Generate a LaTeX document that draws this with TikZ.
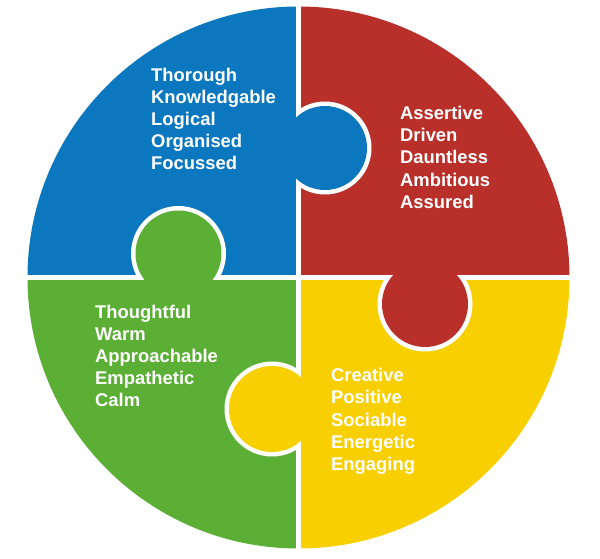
\documentclass[tikz,border=0pt]{standalone}
\usepackage{fontspec}
\setmainfont{Liberation Sans}
\definecolor{qblue}{HTML}{0B77BE}
\definecolor{qred}{HTML}{B9302A}
\definecolor{qgreen}{HTML}{5BAF35}
\definecolor{qyellow}{HTML}{F8CF00}
\begin{document}
\begin{tikzpicture}[x=1pt,y=-1pt,
  lbl/.style={anchor=base west, inner sep=0pt, text=white, font=\fontsize{18.4}{22}\selectfont\bfseries},
  gap/.style={white, line width=5pt},
  ring/.style={fill=white}]
\useasboundingbox (0,0) rectangle (600,559);
\coordinate (c) at (298.5,277.5);
% quadrants
\begin{scope}
  \clip (c) circle (271pt);
  \fill[qblue]   (c) rectangle (0,0);
  \fill[qred]    (c) rectangle (600,0);
  \fill[qgreen]  (c) rectangle (0,559);
  \fill[qyellow] (c) rectangle (600,559);
\end{scope}
% gaps
\draw[gap] (298.5,0) -- (298.5,559);
\draw[gap] (0,277.5) -- (600,277.5);
% blue knob into red
\begin{scope}
  \clip (298.5,0) rectangle (600,277.5);
  \fill[ring] (325,148) circle (46.5pt);
\end{scope}
\fill[qblue] (325,148) circle (42pt);
% green knob into blue
\begin{scope}
  \clip (0,0) rectangle (298.5,277.5);
  \fill[ring] (178.5,253.5) circle (47.5pt);
\end{scope}
\fill[qgreen] (178.5,253.5) circle (43pt);
% red knob into yellow
\begin{scope}
  \clip (298.5,277.5) rectangle (600,559);
  \fill[ring] (425,304) circle (47.5pt);
\end{scope}
\fill[qred] (425,304) circle (43pt);
% yellow knob into green
\begin{scope}
  \clip (0,277.5) rectangle (298.5,559);
  \fill[ring] (272,409) circle (47.5pt);
\end{scope}
\fill[qyellow] (272,409) circle (43pt);
% texts
\foreach \t [count=\i] in {Thorough,Knowledgable,Logical,Organised,Focussed}
  \node[lbl] (blue\i) at (151,{81.5+22*(\i-1)}) {\t};
\foreach \t [count=\i] in {Assertive,Driven,Dauntless,Ambitious,Assured}
  \node[lbl] (red\i) at (400,{119.5+22.25*(\i-1)}) {\t};
\foreach \t [count=\i] in {Thoughtful,Warm,Approachable,Empathetic,Calm}
  \node[lbl] (green\i) at (95,{318.5+22*(\i-1)}) {\t};
\foreach \t [count=\i] in {Creative,Positive,Sociable,Energetic,Engaging}
  \node[lbl] (yellow\i) at (331,{381.5+22.25*(\i-1)}) {\t};
\end{tikzpicture}
\end{document}
